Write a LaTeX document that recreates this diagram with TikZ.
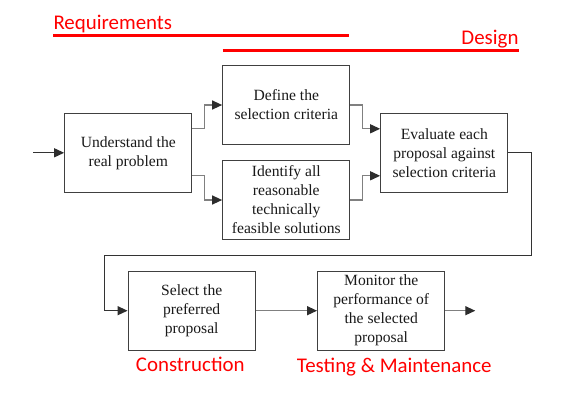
\documentclass[tikz,border=0pt]{standalone}
\usepackage{fontspec}
\setmainfont{Liberation Serif}
\newfontfamily\labelfont{Carlito}
\usetikzlibrary{arrows.meta}
\definecolor{redlab}{RGB}{255,0,0}
\definecolor{boxline}{RGB}{64,64,64}
\definecolor{connline}{RGB}{128,128,128}
\definecolor{tipcol}{RGB}{45,45,45}
\tikzset{
  procbox/.style={draw=boxline, line width=1.3pt, minimum width=127pt, minimum height=79pt,
    inner sep=2pt, align=center, text=black!90, font=\fontsize{15.6}{19}\selectfont},
  conn/.style={draw=connline, line width=1.3pt, -{Triangle[length=10pt,width=9pt,color=tipcol]}},
  darkconn/.style={conn, draw=black!80},
  phase/.style={text=redlab, font=\labelfont\fontsize{20.9}{24}\selectfont, inner sep=0pt},
  phaseline/.style={draw=redlab, line width=3.5pt},
}
\begin{document}
\begin{tikzpicture}[x=1pt,y=-1pt]
\useasboundingbox (0,0) rectangle (583,400);
% phase labels
\node[phase, anchor=base west] (req) at (53.3,29.3) {Requirements};
\node[phase, anchor=base east] (des) at (518.7,44) {Design};
\node[phase, anchor=base] (con) at (190.3,371.7) {Construction};
\node[phase, anchor=base] (tes) at (394.3,372.5) {Testing \& Maintenance};
\draw[phaseline] (53.3,35.7) -- (348.7,35.7);
\draw[phaseline] (222.7,50.7) -- (518.7,50.7);
% boxes
\node[procbox] (und) at (128.3,152.8) {Understand the\\real problem};
\node[procbox] (def) at (286.3,105) {Define the\\selection criteria};
\node[procbox] (ide) at (286.3,200) {Identify all\\reasonable\\technically\\feasible solutions};
\node[procbox] (eva) at (444.3,152.8) {Evaluate each\\proposal against\\selection criteria};
\node[procbox] (sel) at (191.7,310.7) {Select the\\preferred\\proposal};
\node[procbox] (mon) at (381.2,310.7) {Monitor the\\performance of\\the selected\\proposal};
% free ends
\coordinate (in) at (33.3,152.8);
\coordinate (out) at (475.3,310.7);
\coordinate (lr) at (531.3,255.3);
\coordinate (ll) at (104.3,255.3);
% connectors
\draw[darkconn] (in) -- (und.west);
\draw[conn] ([yshift=24pt]und.east) -- ++(11.7,0) |- (def.west);
\draw[conn] ([yshift=-23pt]und.east) -- ++(11.7,0) |- (ide.west);
\draw[conn] (def.east) -- ++(11.7,0) |- ([yshift=24pt]eva.west);
\draw[conn] (ide.east) -- ++(11.7,0) |- ([yshift=-23pt]eva.west);
\draw[darkconn] (eva.east) -| (lr) -- (ll) |- (sel.west);
\draw[conn] (sel.east) -- (mon.west);
\draw[conn] (mon.east) -- (out);
\end{tikzpicture}
\end{document}
